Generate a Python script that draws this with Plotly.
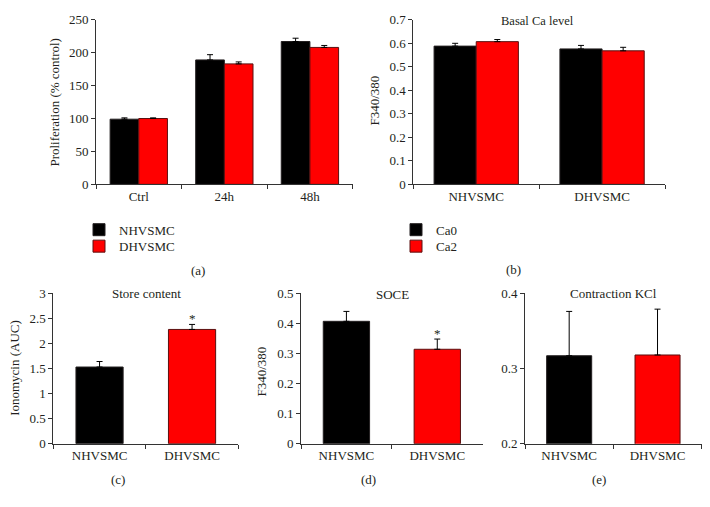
import plotly.graph_objects as go

# ---------------- data ----------------
prolif_cats = ["Ctrl", "24h", "48h"]
prolif_nh = [99, 189, 217]
prolif_nh_err = [2, 8, 5]
prolif_dh = [100, 183, 208]
prolif_dh_err = [1, 3, 3]

basal_cats = ["NHVSMC", "DHVSMC"]
basal_ca0 = [0.588, 0.576]
basal_ca0_err = [0.012, 0.015]
basal_ca2 = [0.607, 0.568]
basal_ca2_err = [0.009, 0.015]

cell_cats = ["NHVSMC", "DHVSMC"]
store_vals = [1.53, 2.28]
store_err = [0.11, 0.10]
soce_vals = [0.407, 0.314]
soce_err = [0.033, 0.034]
kcl_vals = [0.317, 0.318]
kcl_err = [0.059, 0.061]

BLACK = "#000000"
RED = "#ff0000"
FONT = "Liberation Serif"
TXT = "#231f20"
W, H = 694, 491
X0 = 8.0            # screen offset of the figure (horizontal)
Y0, KY = 14.2, 0.972  # observed screen offset / scale (vertical)


def fx(x):
    return (x - X0) / W


def fy(y):
    return 1 - ((y - Y0) / KY) / H


def px_x(a, b):
    return [fx(a), fx(b)]


def px_y(top, bottom):
    return [fy(bottom), fy(top)]


fig = go.Figure()

err_style = dict(type="data", symmetric=False, color="#000000", thickness=1, width=3)
blk_line = dict(color="#231f20", width=1)
red_line = dict(color="#5a1010", width=1)

# (a) proliferation
fig.add_trace(go.Bar(x=prolif_cats, y=prolif_nh, name="NHVSMC", marker=dict(color=BLACK, line=blk_line),
                     error_y=dict(array=prolif_nh_err, arrayminus=[0] * 3, **err_style),
                     xaxis="x", yaxis="y", legend="legend"))
fig.add_trace(go.Bar(x=prolif_cats, y=prolif_dh, name="DHVSMC", marker=dict(color=RED, line=red_line),
                     error_y=dict(array=prolif_dh_err, arrayminus=[0] * 3, **err_style),
                     xaxis="x", yaxis="y", legend="legend2"))

# (b) basal Ca
fig.add_trace(go.Bar(x=basal_cats, y=basal_ca0, name="Ca0", marker=dict(color=BLACK, line=blk_line),
                     error_y=dict(array=basal_ca0_err, arrayminus=[0] * 2, **err_style),
                     xaxis="x2", yaxis="y2", legend="legend3"))
fig.add_trace(go.Bar(x=basal_cats, y=basal_ca2, name="Ca2", marker=dict(color=RED, line=red_line),
                     error_y=dict(array=basal_ca2_err, arrayminus=[0] * 2, **err_style),
                     xaxis="x2", yaxis="y2", legend="legend4"))

# (c), (d), (e)
for vals, errs, xa, ya in [(store_vals, store_err, "x3", "y3"),
                           (soce_vals, soce_err, "x4", "y4"),
                           (kcl_vals, kcl_err, "x5", "y5")]:
    fig.add_trace(go.Bar(x=cell_cats, y=vals, width=0.51, showlegend=False,
                         marker=dict(color=[BLACK, RED], line=dict(color=["#231f20", "#5a1010"], width=1)),
                         error_y=dict(array=errs, arrayminus=[0, 0], **err_style),
                         xaxis=xa, yaxis=ya))

axis_common = dict(showgrid=False, zeroline=False, showline=True, linecolor="#333333", linewidth=1,
                   ticks="outside", ticklen=4, tickcolor="#333333",
                   tickfont=dict(family=FONT, size=13, color=TXT))
xcommon = dict(axis_common, type="category", tickson="boundaries")


def leg(x, y):
    return dict(x=fx(x), y=fy(y), xanchor="left", yanchor="middle", bgcolor="rgba(0,0,0,0)",
                font=dict(family=FONT, size=13, color=TXT), itemwidth=30)


TOP = 19  # top panels' axis top (screen px)
layout = dict(
    width=W, height=H, margin=dict(l=0, r=0, t=0, b=0),
    paper_bgcolor="white", plot_bgcolor="white",
    barmode="group", bargap=0.33, bargroupgap=0,
    font=dict(family=FONT, color=TXT, size=13),
    xaxis=dict(xcommon, domain=px_x(96, 352.7), anchor="y"),
    yaxis=dict(axis_common, domain=px_y(TOP, 184), anchor="x", range=[0, 250], dtick=50),
    xaxis2=dict(xcommon, domain=px_x(413.3, 665), anchor="y2"),
    yaxis2=dict(axis_common, domain=px_y(TOP, 184), anchor="x2", range=[0, 0.7], dtick=0.1, tickformat="~g"),
    xaxis3=dict(xcommon, domain=px_x(53.3, 238.3), anchor="y3"),
    yaxis3=dict(axis_common, domain=px_y(293.3, 444), anchor="x3", range=[0, 3], dtick=0.5, tickformat="~g"),
    xaxis4=dict(xcommon, domain=px_x(301, 482.7), anchor="y4"),
    yaxis4=dict(axis_common, domain=px_y(293.3, 444), anchor="x4", range=[0, 0.5], dtick=0.1, tickformat="~g"),
    xaxis5=dict(xcommon, domain=px_x(525, 701.7), anchor="y5"),
    yaxis5=dict(axis_common, domain=px_y(293.3, 444), anchor="x5", range=[0.2, 0.4], dtick=0.1, tickformat=".1f"),
    legend=leg(79, 229.5),
    legend2=leg(79, 246),
    legend3=leg(396, 229.5),
    legend4=leg(396, 246),
)
fig.update_layout(**layout)


def ann_px(text, x, y, size=13, angle=0):
    fig.add_annotation(text=text, x=fx(x), y=fy(y), xref="paper", yref="paper",
                       xanchor="center", yanchor="middle", showarrow=False, textangle=angle,
                       font=dict(family=FONT, size=size, color=TXT))


# panel titles
ann_px("Basal Ca level", 537.7, 20, 12.5)
ann_px("Store content", 146.7, 293, 13)
ann_px("SOCE", 392.3, 294, 13)
ann_px("Contraction KCl", 613.3, 293.5, 13)

# y-axis titles
ann_px("Proliferation (% control)", 55, 101, 13, -90)
ann_px("F340/380", 375, 100, 13, -90)
ann_px("Ionomycin (AUC)", 15, 368, 13, -90)
ann_px("F340/380", 261.7, 372, 13, -90)

# panel labels
ann_px("(a)", 197.5, 270)
ann_px("(b)", 513, 269)
ann_px("(c)", 118, 480)
ann_px("(d)", 368.3, 480)
ann_px("(e)", 599.3, 480)

# significance marks
fig.add_annotation(text="*", x="DHVSMC", y=store_vals[1] + store_err[1], xref="x3", yref="y3",
                   yanchor="bottom", showarrow=False, yshift=-4, font=dict(family=FONT, size=13, color=TXT))
fig.add_annotation(text="*", x="DHVSMC", y=soce_vals[1] + soce_err[1], xref="x4", yref="y4",
                   yanchor="bottom", showarrow=False, yshift=-4, font=dict(family=FONT, size=13, color=TXT))

fig.write_html("out.html")
